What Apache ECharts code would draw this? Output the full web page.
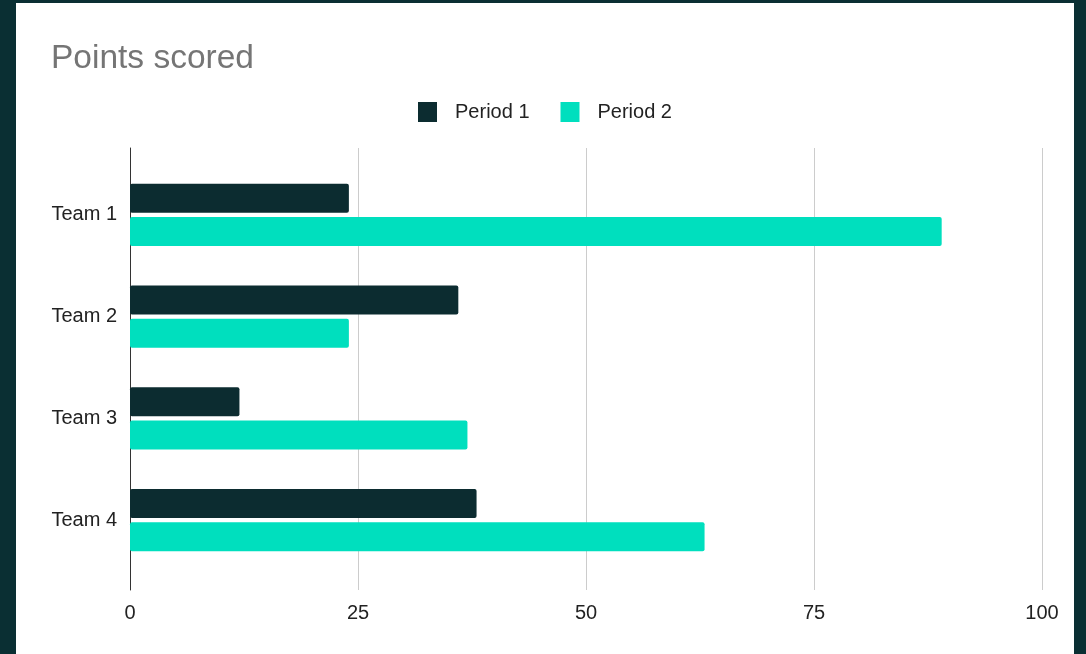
<!DOCTYPE html>
<html>
<head>
<meta charset="utf-8">
<script src="https://cdn.jsdelivr.net/npm/echarts@6/dist/echarts.min.js"></script>
<style>
  html, body { margin: 0; padding: 0; width: 1086px; height: 654px; overflow: hidden;
    background-color: #0a2f33; }
  #card { position: absolute; left: 16px; top: 3px; width: 1058px; height: 651px; background: #ffffff; }
  #chart { width: 1058px; height: 651px; }
</style>
</head>
<body>
<div id="card"><div id="chart"></div></div>
<script>
const categories = ['Team 1', 'Team 2', 'Team 3', 'Team 4'];
const seriesNames = ['Period 1', 'Period 2'];
const period1 = [24, 36, 12, 38];
const period2 = [89, 24, 37, 63];
const xTicks = [0, 25, 50, 75, 100];
const colors = ['#0c2c30', '#00dfbe'];

const FONT = '"Liberation Sans", Arial, sans-serif';
const chart = echarts.init(document.getElementById('chart'), null, { renderer: 'canvas' });

const option = {
  backgroundColor: '#ffffff',
  animation: false,
  title: {
    text: 'Points scored',
    left: 30,
    top: 34,
    textStyle: { fontFamily: FONT, fontSize: 33.5, fontWeight: 'normal', color: '#757575' }
  },
  legend: {
    data: seriesNames,
    left: 'center',
    top: 94,
    icon: 'rect',
    itemWidth: 19,
    itemHeight: 20,
    itemGap: 31,
    textStyle: { fontFamily: FONT, fontSize: 20, color: '#222222', padding: [0, 0, 0, 13] }
  },
  grid: [
    { left: 114, right: 32, top: 161, bottom: 83, containLabel: false },
    { left: 114, right: 32, top: 145, bottom: 64, containLabel: false }
  ],
  xAxis: [
    { gridIndex: 0, type: 'value', min: xTicks[0], max: xTicks[xTicks.length - 1], interval: 25, show: false },
    {
      gridIndex: 1, type: 'value', min: xTicks[0], max: xTicks[xTicks.length - 1], interval: 25,
      axisLine: { show: false }, axisTick: { show: false },
      splitLine: { show: true, lineStyle: { color: '#cccccc', width: 1 } },
      axisLabel: { margin: 13, fontFamily: FONT, fontSize: 20, color: '#222222' }
    }
  ],
  yAxis: [
    {
      gridIndex: 0, type: 'category', data: categories, inverse: true,
      axisLine: { show: false }, axisTick: { show: false }, splitLine: { show: false },
      axisLabel: { margin: 13, fontFamily: FONT, fontSize: 20, color: '#222222' }
    },
    {
      gridIndex: 1, type: 'category', data: categories, inverse: true,
      axisLine: { show: true, lineStyle: { color: '#333333', width: 1 } },
      axisTick: { show: false }, axisLabel: { show: false }, splitLine: { show: false }
    }
  ],
  series: [
    {
      name: seriesNames[0], type: 'bar', xAxisIndex: 0, yAxisIndex: 0,
      data: period1, barWidth: 29, barGap: '14%',
      itemStyle: { color: colors[0], borderRadius: 2 }
    },
    {
      name: seriesNames[1], type: 'bar', xAxisIndex: 0, yAxisIndex: 0,
      data: period2, barWidth: 29, barGap: '14%',
      itemStyle: { color: colors[1], borderRadius: 2 }
    }
  ]
};
chart.setOption(option);
</script>
</body>
</html>
